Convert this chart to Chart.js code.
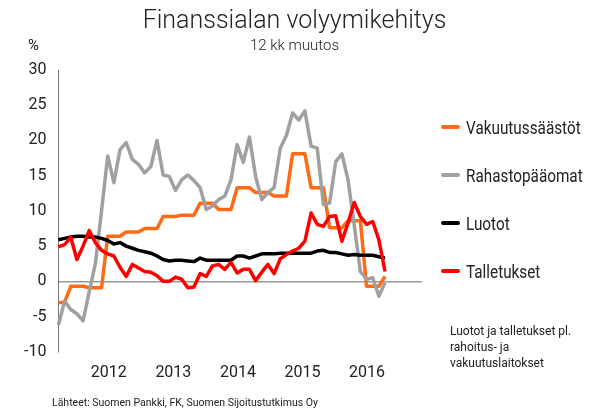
<!DOCTYPE html>
<html>
<head>
<meta charset="utf-8">
<script src="https://cdn.jsdelivr.net/npm/chart.js@4.4.1/dist/chart.umd.min.js"></script>
<style>
  body { margin: 0; background: #fff; font-family: Roboto, sans-serif; color: #222; }
  #wrap { position: relative; width: 589px; height: 410px; overflow: hidden; }
  #chart { position: absolute; left: 0; top: 0; }
  .txt { position: absolute; white-space: nowrap; transform-origin: left top; }
  #otsikko { left: 0; width: 589px; top: 5px; text-align: center; font-size: 25px; font-weight: 300; }
  #ali { left: 0; width: 589px; top: 36px; text-align: center; font-size: 15px; font-weight: 300; }
  #yksikko { left: 28px; top: 36px; font-size: 15px; }
  #selite { position: absolute; left: 441px; top: 115px; }
  .rivi { display: flex; align-items: center; height: 24px; margin-bottom: 24px; }
  .viiva { width: 19px; height: 4px; border-radius: 2px; margin-right: 6px; }
  .nimi { font-size: 18px; transform: scaleX(0.85); transform-origin: left center; }
  #huom { left: 450px; top: 323px; font-size: 12px; line-height: 16px; }
  #lahde { left: 52px; top: 396px; font-size: 10.5px; }
</style>
</head>
<body>
<div id="wrap">
  <canvas id="chart" width="589" height="410"></canvas>
  <div class="txt" id="otsikko">Finanssialan volyymikehitys</div>
  <div class="txt" id="ali">12 kk muutos</div>
  <div class="txt" id="yksikko">%</div>
  <div id="selite"></div>
  <div class="txt" id="huom">Luotot ja talletukset pl.<br>rahoitus- ja<br>vakuutuslaitokset</div>
  <div class="txt" id="lahde">Lähteet: Suomen Pankki, FK, Suomen Sijoitustutkimus Oy</div>
</div>
<script>
// kuukaudet (akselilla tyhjää tilaa lopussa)
const kuukaudet = [
  '2011-05','2011-06','2011-07','2011-08','2011-09','2011-10','2011-11','2011-12',
  '2012-01','2012-02','2012-03','2012-04','2012-05','2012-06','2012-07','2012-08','2012-09','2012-10','2012-11','2012-12',
  '2013-01','2013-02','2013-03','2013-04','2013-05','2013-06','2013-07','2013-08','2013-09','2013-10','2013-11','2013-12',
  '2014-01','2014-02','2014-03','2014-04','2014-05','2014-06','2014-07','2014-08','2014-09','2014-10','2014-11','2014-12',
  '2015-01','2015-02','2015-03','2015-04','2015-05','2015-06','2015-07','2015-08','2015-09','2015-10','2015-11','2015-12',
  '2016-01','2016-02','2016-03','2016-04'
];

const vakuutussaastot = [
  -3, -3, -0.7, -0.7, -0.7, -0.9, -0.9, -0.9,
  6.4, 6.4, 6.4, 7.0, 7.0, 7.0, 7.5, 7.5, 7.5, 9.2, 9.2, 9.2,
  9.4, 9.4, 9.4, 11.1, 11.1, 11.1, 10.2, 10.2, 10.2, 13.3, 13.3, 13.3,
  12.6, 12.6, 12.6, 12.1, 12.1, 12.1, 18.1, 18.1, 18.1, 13.3, 13.3, 13.3,
  7.6, 7.6, 7.6, 8.6, 8.6, 8.6, -0.7, -0.7, -0.7, 0.7
];
const rahastopaaomat = [
  -6.2, -2.8, -4.0, -4.6, -5.6, -1.5, 2.5, 10.0,
  17.8, 14.0, 18.7, 19.7, 17.3, 16.6, 15.4, 16.3, 20.0, 15.1, 14.9, 12.9,
  14.4, 15.1, 14.3, 13.3, 10.2, 10.7, 11.6, 12.1, 14.4, 19.4, 16.9, 20.5,
  14.9, 11.6, 12.6, 13.3, 18.9, 20.7, 23.9, 22.9, 24.2, 19.2, 18.9, 10.9,
  11.1, 17.0, 18.1, 14.4, 8.0, 1.4, 0.3, 0.5, -2.1, -0.2
];
const luotot = [
  5.9, 6.1, 6.3, 6.4, 6.4, 6.3, 6.3, 6.1,
  5.8, 5.3, 5.5, 5.0, 4.7, 4.4, 4.2, 4.0, 3.6, 3.1, 2.9, 3.0,
  3.0, 2.9, 2.8, 3.3, 3.0, 3.0, 3.0, 3.0, 3.0, 3.6, 3.6, 3.3,
  3.6, 3.9, 3.9, 3.9, 4.0, 4.0, 4.0, 4.0, 4.0, 4.0, 4.3, 4.4,
  4.1, 4.1, 3.9, 3.7, 3.8, 3.7, 3.7, 3.7, 3.5, 3.3
];
const talletukset = [
  4.9, 5.2, 6.3, 3.1, 5.0, 7.2, 5.5, 4.4,
  3.9, 3.6, 2.0, 0.7, 2.4, 1.9, 1.4, 1.3, 0.8, 0.0, 0.0, 0.6,
  0.3, -0.9, -0.8, 1.1, 0.7, 2.2, 2.4, 1.7, 2.7, 1.2, 1.7, 1.7,
  0.1, 1.3, 2.4, 1.1, 3.2, 3.8, 4.3, 4.7, 5.7, 9.7, 8.1, 7.8,
  9.2, 9.3, 5.7, 8.3, 11.2, 9.2, 8.1, 8.5, 5.9, 1.4
];

const sarjat = ['Vakuutussäästöt', 'Rahastopääomat', 'Luotot', 'Talletukset'];
const varit = ['#ff6a13', '#a0a0a0', '#000000', '#ff0000'];
const arvot = [vakuutussaastot, rahastopaaomat, luotot, talletukset];

// vuosien nimiöt erillisellä lineaarisella akselilla
const vuodet = { min: 2011.22, max: 2016.85 };
const yAkseli = { min: -10, max: 30, askel: 5 };

const tickFont = { family: 'Roboto', size: 16 };

const datasets = sarjat.map((nimi, i) => ({
  label: nimi,
  data: arvot[i],
  borderColor: varit[i],
  backgroundColor: varit[i],
  borderWidth: 3.5,
  pointRadius: 0,
  tension: 0,
  borderJoinStyle: 'round',
  order: sarjat.length - i // talletukset päällimmäisenä
}));

new Chart(document.getElementById('chart'), {
  type: 'line',
  data: { labels: kuukaudet, datasets },
  options: {
    responsive: false,
    animation: false,
    layout: { padding: { top: 70, left: 12, right: 167, bottom: 23 } },
    plugins: { legend: { display: false }, tooltip: { enabled: false } },
    scales: {
      x: { type: 'category', display: false, offset: false },
      vuodet: {
        axis: 'x',
        type: 'linear',
        position: 'bottom',
        min: vuodet.min,
        max: vuodet.max,
        grid: { display: false },
        border: { display: false },
        ticks: {
          stepSize: 1,
          includeBounds: false,
          padding: 4,
          color: '#222',
          font: tickFont,
          callback: v => String(v)
        }
      },
      y: {
        min: yAkseli.min,
        max: yAkseli.max,
        ticks: { stepSize: yAkseli.askel, padding: 12, color: '#222', font: tickFont },
        grid: {
          drawTicks: false,
          lineWidth: 1.5,
          color: ctx => ctx.tick && ctx.tick.value === 0 ? '#999' : 'rgba(0,0,0,0)'
        },
        border: { color: '#777', width: 1 }
      }
    }
  }
});

// selite
const selite = document.getElementById('selite');
sarjat.forEach((nimi, i) => {
  selite.innerHTML += `
    <div class="rivi">
      <div class="viiva" style="background:${varit[i]}"></div>
      <span class="nimi">${nimi}</span>
    </div>`;
});
</script>
</body>
</html>
